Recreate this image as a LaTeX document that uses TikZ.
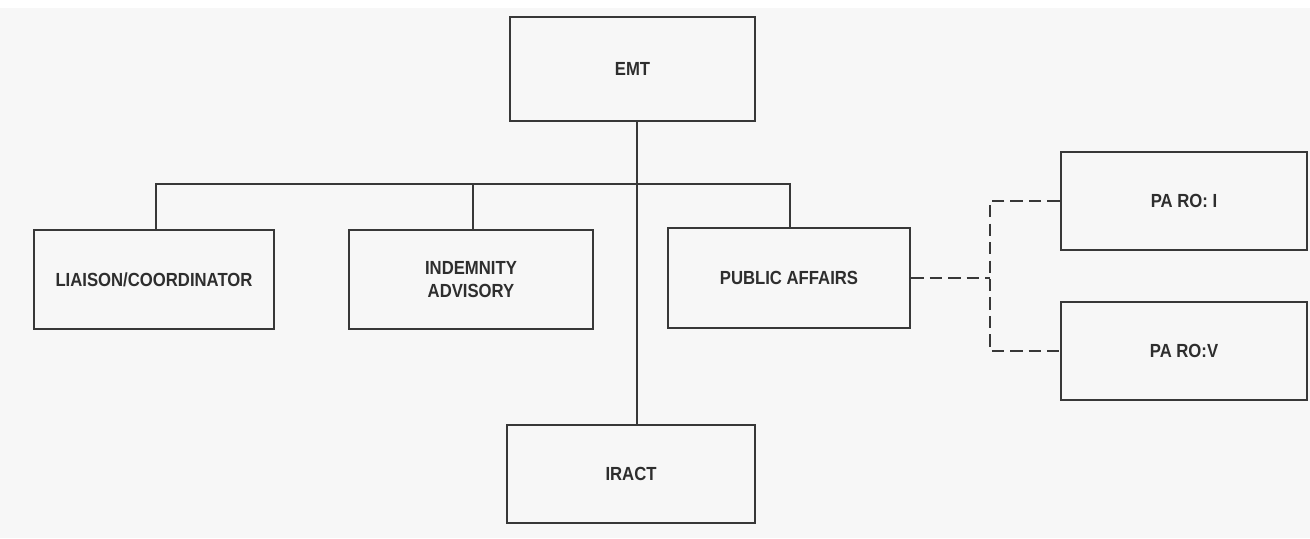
\documentclass[tikz,border=0pt]{standalone}
\usepackage{fontspec}
\setmainfont{Liberation Sans}[FakeStretch=0.88]
\begin{document}
\begin{tikzpicture}[x=0.02cm,y=-0.02cm,
  ink/.style={draw=black!78,line width=1.6pt},
  unit/.style={ink,rectangle,inner sep=0pt,align=center,
    font=\fontsize{10.8}{13}\selectfont\bfseries,text=black!82},
  dashline/.style={ink,dash pattern=on 7pt off 3.5pt}]
% paper
\fill[black!3] (0,0) rectangle (1310,538);
\fill[white] (0,0) rectangle (1310,8);
% boxes
\node[unit,minimum width=4.9cm,minimum height=2.08cm] (emt) at (632.5,69) {EMT};
\node[unit,minimum width=4.8cm,minimum height=1.98cm] (liaison) at (154,279.5) {LIAISON/COORDINATOR};
\node[unit,minimum width=4.88cm,minimum height=1.98cm] (indem) at (471,279.5) {INDEMNITY\\ADVISORY};
\node[unit,minimum width=4.84cm,minimum height=2.0cm] (pub) at (789,278) {PUBLIC AFFAIRS};
\node[unit,minimum width=4.96cm,minimum height=1.96cm] (iract) at (631,474) {IRACT};
\node[unit,minimum width=4.92cm,minimum height=1.96cm] (paroi) at (1184,201) {PA RO: I};
\node[unit,minimum width=4.92cm,minimum height=1.96cm] (parov) at (1184,351) {PA RO:V};
% line positions
\coordinate (spine) at (637,0);
\coordinate (busy) at (0,184);
\coordinate (dl) at (156,0);
\coordinate (di) at (473,0);
\coordinate (dr) at (790,0);
\coordinate (jn) at (990,0);
% solid connectors
\draw[ink] (emt.south -| spine) -- (iract.north -| spine);
\draw[ink] (liaison.north -| dl) -- (dl |- busy) -- (dr |- busy) -- (pub.north -| dr);
\draw[ink] (indem.north -| di) -- (di |- busy);
% dashed connectors
\draw[dashline] (pub.east) -- (jn |- pub.east);
\draw[dashline] (paroi.west) -- (jn |- paroi.west) -- (jn |- parov.west) -- (parov.west);
\end{tikzpicture}
\end{document}
